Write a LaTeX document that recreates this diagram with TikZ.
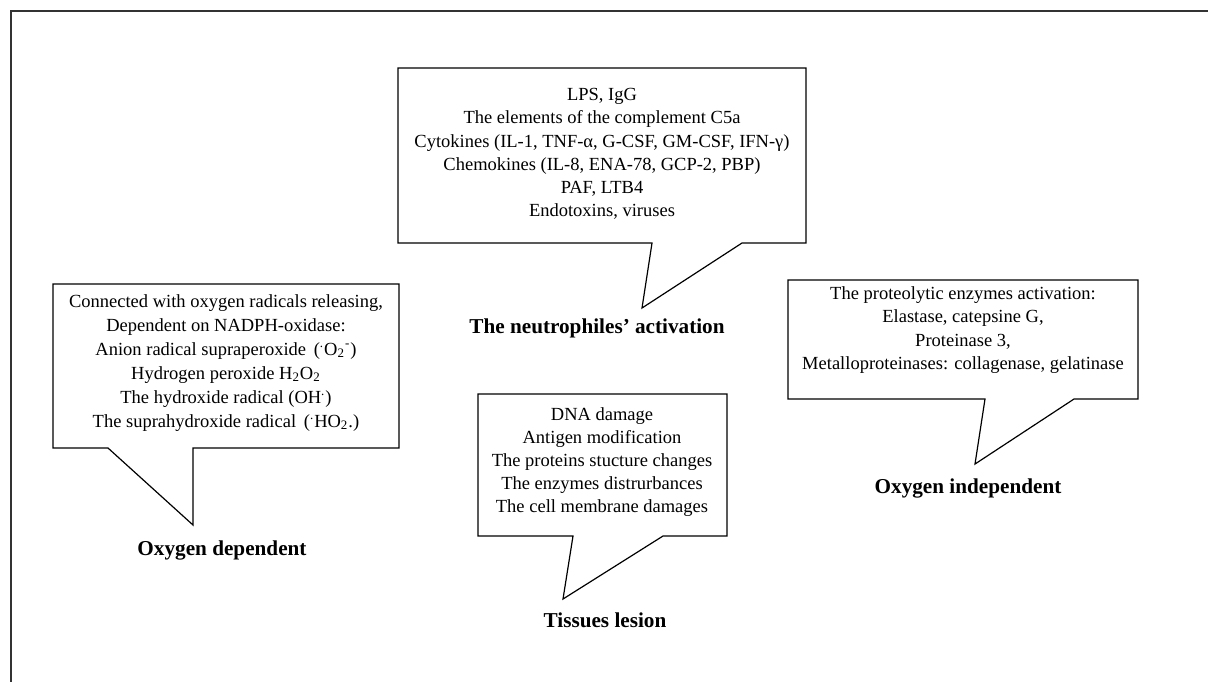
\documentclass[tikz,border=0pt]{standalone}
\usepackage{fontspec}
\setmainfont{Liberation Serif}
\usepackage{tikz}

\begin{document}
\begin{tikzpicture}[x=0.5pt, y=-0.5pt,
        every node/.style={align=center, inner sep=0pt},
        list/.style={font=\fontsize{9.25}{11.6}\selectfont},
        head/.style={font=\fontsize{10.6}{12}\selectfont\bfseries},
        bubble/.style={draw, line width=0.6pt, line join=miter}]
    \useasboundingbox (0,0) rectangle (1208,682);
    \draw[line width=1pt, black!80] (1208,11) -- (11,11) -- (11,682);

    % the four callouts
    \draw[bubble] (398,68) -- (806,68) -- (806,243) -- (742,243)
        -- (642,308) -- (652,243) -- (398,243) -- cycle;
    \draw[bubble] (53,284) -- (399,284) -- (399,448) -- (193,448)
        -- (193,525) -- (108,448) -- (53,448) -- cycle;
    \draw[bubble] (478,394) -- (727,394) -- (727,536) -- (663,536)
        -- (563,599) -- (573,536) -- (478,536) -- cycle;
    \draw[bubble] (788,280) -- (1138,280) -- (1138,399) -- (1074,399)
        -- (975,464) -- (985,399) -- (788,399) -- cycle;

    \node[list] (actlist) at (602,154) {LPS, IgG\\
        The elements of the complement C5a\\
        Cytokines (IL-1, TNF-α, G-CSF, GM-CSF, IFN-γ)\\
        Chemokines (IL-8, ENA-78, GCP-2, PBP)\\
        PAF, LTB4\\
        Endotoxins, viruses};
    \node[list, font=\fontsize{9.25}{12}\selectfont] (deplist) at (226,363)
        {Connected with oxygen radicals releasing,\\
        Dependent on NADPH-oxidase:\\
        Anion radical supraperoxide \,(\textsuperscript{.}O\textsubscript{2}\textsuperscript{-})\\
        Hydrogen peroxide H\textsubscript{2}O\textsubscript{2}\\
        The hydroxide radical (OH\textsuperscript{.})\\
        The suprahydroxide radical \,(\textsuperscript{.}HO\textsubscript{2}.)};
    \node[list] (tislist) at (602,462) {DNA damage\\
        Antigen modification\\
        The proteins stucture changes\\
        The enzymes distrurbances\\
        The cell membrane damages};
    \node[list] (indlist) at (963,330) {The proteolytic enzymes activation:\\
        Elastase, catepsine G,\\
        Proteinase 3,\\
        Metalloproteinases: collagenase, gelatinase};

    \node[head] (act) at (597,328) {The neutrophiles’ activation};
    \node[head] (dep) at (222,550) {Oxygen dependent};
    \node[head] (tis) at (605,620) {Tissues lesion};
    \node[head] (ind) at (968,488) {Oxygen independent};
\end{tikzpicture}
\end{document}
